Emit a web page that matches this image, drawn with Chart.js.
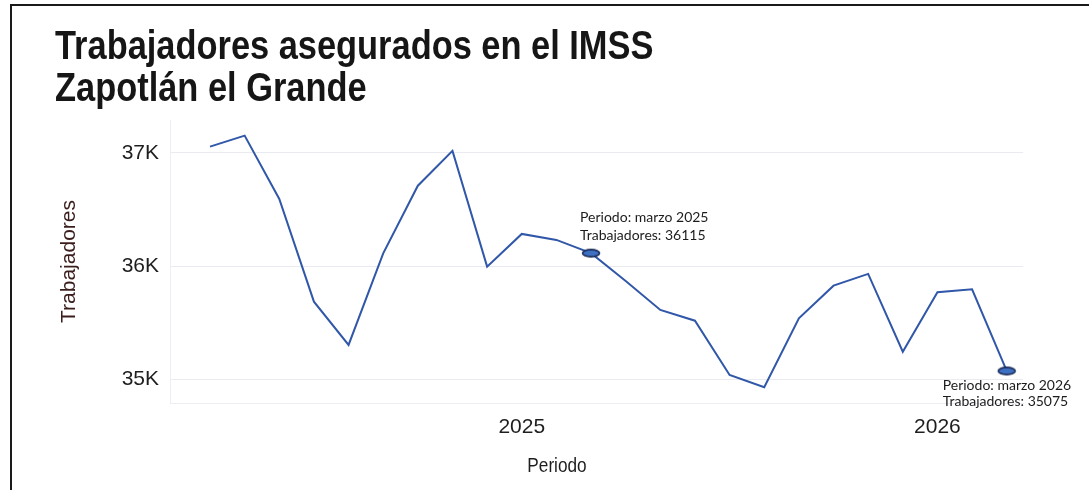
<!DOCTYPE html>
<html lang="es">
<head>
<meta charset="utf-8">
<title>Trabajadores asegurados en el IMSS - Zapotlán el Grande</title>
<script src="https://cdn.jsdelivr.net/npm/chart.js@4.4.1/dist/chart.umd.min.js"></script>
<style>
    html, body { margin: 0; padding: 0; background: #fff; }
    body { width: 1089px; height: 490px; position: relative; overflow: hidden; }
    .frame { position: absolute; left: 10px; top: 4px; right: -10px; bottom: -10px; border-top: 2px solid #1a1a1a; border-left: 2px solid #1a1a1a; }
    .titulo {
        position: absolute; left: 55px; top: 25px; margin: 0;
        font: bold 40px "Liberation Sans", Arial, sans-serif; line-height: 41.7px;
        color: #161616; transform: scaleX(0.86); transform-origin: left top; white-space: nowrap;
    }
    .eje-x {
        position: absolute; left: 557px; top: 454px;
        font: 20px "Liberation Sans", Arial, sans-serif; color: #1e1e1e;
        transform: translateX(-50%) scaleX(0.86); white-space: nowrap;
    }
    #chart { position: absolute; left: 0; top: 0; }
</style>
</head>
<body>
<div class="frame"></div>
<canvas id="chart" width="1089" height="490"></canvas>
<h1 class="titulo">Trabajadores asegurados en el IMSS<br>Zapotlán el Grande</h1>
<div class="eje-x">Periodo</div>
<script>
(function () {
    const periodos = [
        'abril 2024', 'mayo 2024', 'junio 2024', 'julio 2024', 'agosto 2024', 'septiembre 2024',
        'octubre 2024', 'noviembre 2024', 'diciembre 2024', 'enero 2025', 'febrero 2025', 'marzo 2025',
        'abril 2025', 'mayo 2025', 'junio 2025', 'julio 2025', 'agosto 2025', 'septiembre 2025',
        'octubre 2025', 'noviembre 2025', 'diciembre 2025', 'enero 2026', 'febrero 2026', 'marzo 2026',
    ];
    const trabajadores = [
        37056, 37153, 36594, 35687, 35305, 36114,
        36711, 37018, 35996, 36285, 36232, 36115,
        35870, 35614, 35519, 35040, 34931, 35540,
        35828, 35932, 35245, 35770, 35796, 35075,
    ];
    const yTicks = [35000, 36000, 37000];
    const destacados = ['marzo 2025', 'marzo 2026'];

    // ticks del eje x: un tick por año, en enero
    const xTicks = periodos
        .map((p, i) => ({ p, i }))
        .filter((d) => d.p.startsWith('enero'))
        .map((d) => ({ value: d.i, label: d.p.split(' ')[1] }));

    const puntos = trabajadores.map((v, i) => ({ x: i, y: v }));
    const esDestacado = (i) => destacados.includes(periodos[i]);

    // marcador ovalado para los puntos señalados
    const ovalo = document.createElement('canvas');
    ovalo.width = 22;
    ovalo.height = 11;
    (function () {
        const c = ovalo.getContext('2d');
        c.beginPath();
        c.ellipse(11, 5.5, 8.5, 3.6, 0, 0, Math.PI * 2);
        c.fillStyle = '#3d6fc2';
        c.fill();
        c.lineWidth = 1.6;
        c.strokeStyle = '#1b2b57';
        c.stroke();
    })();

    const etiquetas = {
        id: 'etiquetas',
        afterDatasetsDraw(chart, args, opts) {
            const ctx = chart.ctx;
            const meta = chart.getDatasetMeta(0);
            ctx.save();
            ctx.font = opts.font;
            ctx.fillStyle = opts.color;
            ctx.textAlign = 'left';
            ctx.textBaseline = 'alphabetic';
            destacados.forEach((p, k) => {
                const i = periodos.indexOf(p);
                const pt = meta.data[i];
                const off = opts.offsets[k];
                ctx.fillText('Periodo: ' + p, pt.x + off.dx, pt.y + off.dy1);
                ctx.fillText('Trabajadores: ' + trabajadores[i], pt.x + off.dx, pt.y + off.dy2);
            });
            ctx.restore();
        },
    };

    new Chart(document.getElementById('chart'), {
        type: 'line',
        data: {
            datasets: [{
                label: 'Trabajadores',
                data: puntos,
                borderColor: '#3057a8',
                borderWidth: 2,
                tension: 0,
                fill: false,
                pointRadius: (c) => (esDestacado(c.dataIndex) ? 5 : 0),
                pointStyle: (c) => (esDestacado(c.dataIndex) ? ovalo : 'circle'),
                pointHoverRadius: 0,
            }],
        },
        plugins: [etiquetas],
        options: {
            responsive: false,
            animation: false,
            layout: { padding: { left: 50, top: 120, right: 66, bottom: 0 } },
            plugins: {
                legend: { display: false },
                tooltip: { enabled: false },
                etiquetas: {
                    font: '14px Lato, "Open Sans", sans-serif',
                    color: '#1c1c1c',
                    offsets: [
                        { dx: -11, dy1: -31, dy2: -13.5 },
                        { dx: -64, dy1: 18.6, dy2: 35 },
                    ],
                },
            },
            scales: {
                x: {
                    type: 'linear',
                    min: -1.155,
                    max: 23.47,
                    afterBuildTicks: (scale) => { scale.ticks = xTicks.map((t) => ({ value: t.value })); },
                    afterFit: (scale) => { scale.height = 87; },
                    ticks: {
                        autoSkip: false,
                        maxRotation: 0,
                        padding: 12,
                        color: '#1e1e1e',
                        font: { family: '"Liberation Sans", Arial, sans-serif', size: 21 },
                        callback: (v) => {
                            const t = xTicks.find((d) => d.value === v);
                            return t ? t.label : '';
                        },
                    },
                    grid: { display: false, drawTicks: false },
                    border: { display: true, color: '#eceef3', width: 1 },
                },
                y: {
                    min: 34792,
                    max: 37291,
                    afterBuildTicks: (scale) => { scale.ticks = yTicks.map((v) => ({ value: v })); },
                    afterFit: (scale) => { scale.width = 120; },
                    ticks: {
                        padding: 11,
                        color: '#1e1e1e',
                        font: { family: '"Liberation Sans", Arial, sans-serif', size: 21 },
                        callback: (v) => (v / 1000) + 'K',
                    },
                    grid: { color: '#e9ebf1', lineWidth: 1, drawTicks: false },
                    border: { display: true, color: '#eceef3', width: 1 },
                    title: {
                        display: true,
                        text: 'Trabajadores',
                        color: '#3a1c1c',
                        font: { family: '"Liberation Sans", Arial, sans-serif', size: 21 },
                        padding: { top: 7, bottom: 0 },
                    },
                },
            },
        },
    });
})();
</script>
</body>
</html>
